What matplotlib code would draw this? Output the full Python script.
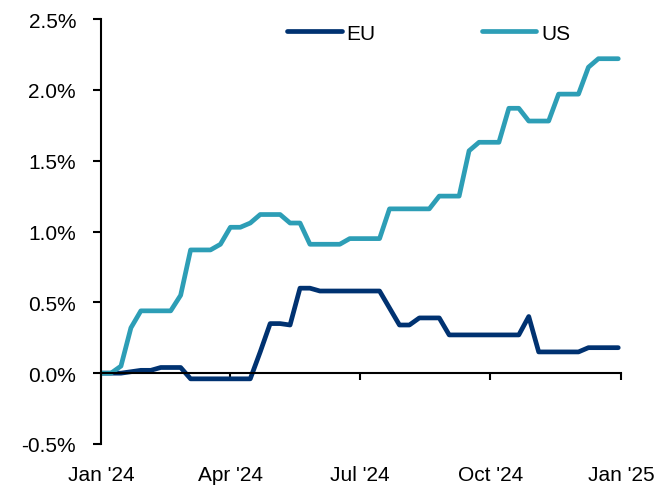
import numpy as np
import pandas as pd
import matplotlib
matplotlib.use("Agg")
import matplotlib.pyplot as plt
import matplotlib.dates as mdates
from matplotlib.ticker import FuncFormatter

plt.rcParams['font.family'] = ['Liberation Sans', 'DejaVu Sans']

# weekly observations
dates = pd.date_range('2024-01-01', periods=53, freq='7D')

eu = [0.00, 0.00, 0.00, 0.01, 0.02, 0.02, 0.04, 0.04, 0.04, -0.04,
      -0.04, -0.04, -0.04, -0.04, -0.04, -0.04, 0.15, 0.35, 0.35, 0.34,
      0.60, 0.60, 0.58, 0.58, 0.58, 0.58, 0.58, 0.58, 0.58, 0.46,
      0.34, 0.34, 0.39, 0.39, 0.39, 0.27, 0.27, 0.27, 0.27, 0.27,
      0.27, 0.27, 0.27, 0.40, 0.15, 0.15, 0.15, 0.15, 0.15, 0.18,
      0.18, 0.18, 0.18]

us = [0.00, 0.00, 0.05, 0.32, 0.44, 0.44, 0.44, 0.44, 0.55, 0.87,
      0.87, 0.87, 0.91, 1.03, 1.03, 1.06, 1.12, 1.12, 1.12, 1.06,
      1.06, 0.91, 0.91, 0.91, 0.91, 0.95, 0.95, 0.95, 0.95, 1.16,
      1.16, 1.16, 1.16, 1.16, 1.25, 1.25, 1.25, 1.57, 1.63, 1.63,
      1.63, 1.87, 1.87, 1.78, 1.78, 1.78, 1.97, 1.97, 1.97, 2.16,
      2.22, 2.22, 2.22]

x_ticks = pd.to_datetime(['2024-01-01', '2024-04-01', '2024-07-01', '2024-10-01', '2025-01-01'])

fig = plt.figure(figsize=(6.65, 4.89), dpi=100)
ax = fig.add_axes([0.152, 0.09, 0.782, 0.869])

ax.plot(dates, eu, color='#003271', lw=3.4, label='EU', solid_capstyle='round')
ax.plot(dates, us, color='#2D9EB6', lw=3.4, label='US', solid_capstyle='round')

ax.set_xlim(x_ticks[0], x_ticks[-1])
ax.set_ylim(-0.5, 2.5)
ax.set_yticks(np.arange(-0.5, 2.51, 0.5))
ax.yaxis.set_major_formatter(FuncFormatter(lambda v, p: '{:.1f}%'.format(v)))
ax.set_xticks(x_ticks)
ax.xaxis.set_major_formatter(mdates.DateFormatter("%b '%y"))

for s in ['top', 'right']:
    ax.spines[s].set_visible(False)
ax.spines['bottom'].set_position(('data', 0))
ax.spines['bottom'].set_linewidth(1.5)
ax.spines['left'].set_linewidth(1.5)

ax.tick_params(axis='y', labelsize=15, length=6, width=1.5, pad=12)
ax.tick_params(axis='x', labelsize=15, length=5, width=1.5, pad=61)

ax.legend(loc='center', bbox_to_anchor=(429 / 665, 1 - 34 / 489),
          bbox_transform=fig.transFigure, ncol=2, frameon=False,
          fontsize=15, handlelength=2.6, handletextpad=0.25, columnspacing=5.1)

fig.savefig('out.png', dpi=100)
